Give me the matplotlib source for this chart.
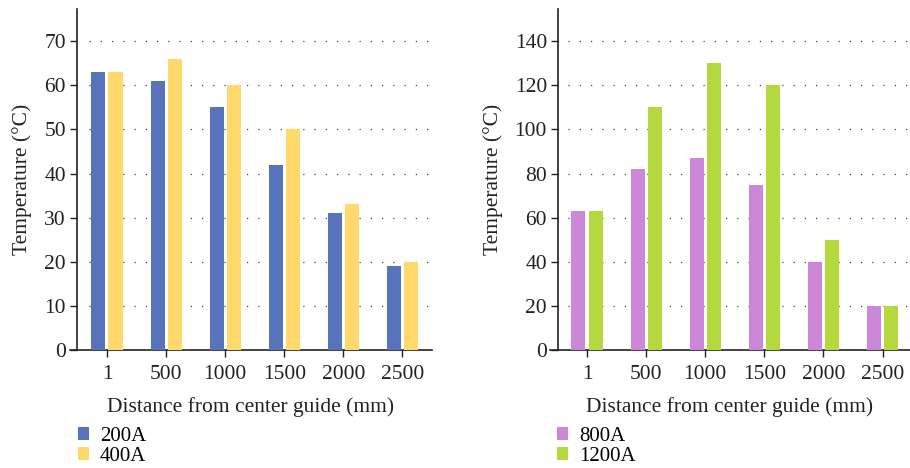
import matplotlib
matplotlib.use("Agg")
import matplotlib.pyplot as plt
import numpy as np

plt.rcParams["font.family"] = ["Liberation Serif", "DejaVu Serif"]
plt.rcParams["font.size"] = 15

# data
distances = ["1", "500", "1000", "1500", "2000", "2500"]
temp_200A = [63, 61, 55, 42, 31, 19]
temp_400A = [63, 66, 60, 50, 33, 20]
temp_800A = [63, 82, 87, 75, 40, 20]
temp_1200A = [63, 110, 130, 120, 50, 20]

fig = plt.figure(figsize=(9.1, 4.68), dpi=100)
ax1 = fig.add_axes([70 / 910, 1 - 350 / 468, 362 / 910, 341 / 468])
ax2 = fig.add_axes([550 / 910, 1 - 350 / 468, 360 / 910, 341 / 468])

x = np.arange(len(distances))
w = 0.237
off = 0.144


def panel(ax, a, b, ca, cb, la, lb, ymax, ystep, ytop, spine_x, grid_lo, grid_hi, xhi):
    ax.bar(x - off, a, w, color=ca, label=la, zorder=3)
    ax.bar(x + off, b, w, color=cb, label=lb, zorder=3)
    ax.set_xlim(-0.626, xhi)
    ax.set_ylim(0, ytop)
    ax.set_yticks(np.arange(0, ymax + 1, ystep))
    ax.set_xticks(x)
    ax.set_xticklabels(distances)
    for yv in np.arange(ystep, ymax + 1, ystep):
        ax.plot([grid_lo, grid_hi], [yv, yv], color="#444444", lw=0.9,
                linestyle=(0, (1, 8)), zorder=1)
    ax.spines["top"].set_visible(False)
    ax.spines["right"].set_visible(False)
    ax.spines["left"].set_position(("data", spine_x))
    for s in ["left", "bottom"]:
        ax.spines[s].set_color("#222222")
        ax.spines[s].set_linewidth(1.2)
    ax.tick_params(direction="out", length=5, width=1, colors="#222222",
                   labelsize=15.5, pad=3)
    ax.tick_params(axis="x", pad=6)
    ax.set_xlabel("Distance from center guide (mm)", fontsize=15.5, labelpad=9,
                  color="#222222")
    ax.set_ylabel("Temperature (°C)", fontsize=15.5, color="#222222")
    ax.legend(loc="upper left", frameon=False, fontsize=15,
              handlelength=0.55, handleheight=0.55, handletextpad=0.5,
              labelspacing=0.05, borderpad=0, borderaxespad=0)


panel(ax1, temp_200A, temp_400A, "#5673BC", "#FFD96B", "200A", "400A",
      70, 10, 77.3, -0.507, -0.305, 5.43, 5.5)
panel(ax2, temp_800A, temp_1200A, "#CC87D8", "#B3D93F", "800A", "1200A",
      140, 20, 154.6, -0.49, -0.32, 5.41, 5.465)

ax1.get_legend().set_bbox_to_anchor((78 / 910, 1 - 427 / 468), transform=fig.transFigure)
ax2.get_legend().set_bbox_to_anchor((557 / 910, 1 - 427 / 468), transform=fig.transFigure)
ax1.yaxis.set_label_coords(-0.105, 0.5)
ax2.yaxis.set_label_coords(-0.131, 0.5)

fig.savefig("out.png", dpi=100)
